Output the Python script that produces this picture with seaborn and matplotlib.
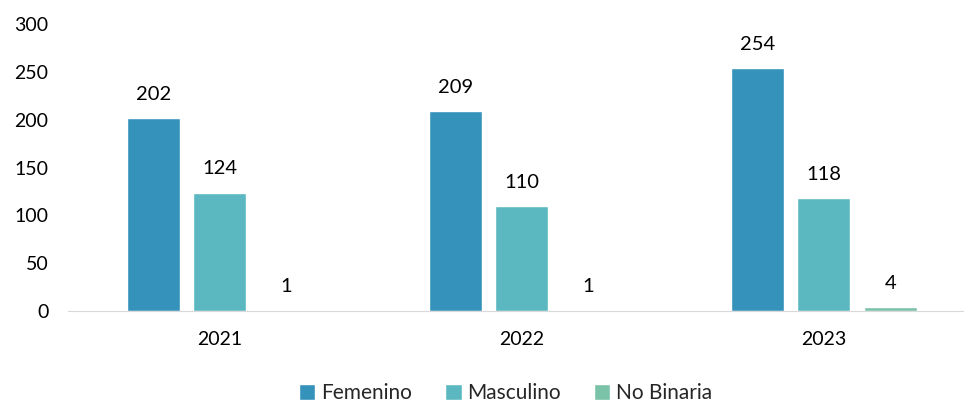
import pandas as pd
import matplotlib.pyplot as plt
import seaborn as sns

years = ['2021', '2022', '2023']
femenino = [202, 209, 254]
masculino = [124, 110, 118]
no_binaria = [1, 1, 4]
generos = ['Femenino', 'Masculino', 'No Binaria']
colores = ['#3592BA', '#5BB7C0', '#7BC3A8']

df = pd.DataFrame({
    'Año': years * 3,
    'Valor': femenino + masculino + no_binaria,
    'Género': [g for g in generos for _ in years],
})

sns.set_style('white')
plt.rcParams['font.family'] = ['Lato', 'DejaVu Sans']

fig = plt.figure(figsize=(9.64, 4.03), dpi=100)
ax = fig.add_axes([0.0705, 0.228, 0.9295, 0.712])

sns.barplot(data=df, x='Año', y='Valor', hue='Género', palette=colores,
            saturation=1, width=0.66, gap=0.2, ax=ax, legend=True)

for cont in ax.containers:
    ax.bar_label(cont, padding=11, fontsize=14.5, color='#000000')

ax.set_ylim(0, 300)
ax.set_yticks(range(0, 301, 50))
ax.set_xlim(-0.503, 2.464)
ax.set_xlabel('')
ax.set_ylabel('')
sns.despine(ax=ax, left=True, top=True, right=True)
ax.spines['bottom'].set_color('#D9D9D9')
ax.tick_params(axis='both', length=0, labelsize=14, colors='#000000')
ax.tick_params(axis='x', pad=14)
ax.tick_params(axis='y', pad=14)

handles, labels = ax.get_legend_handles_labels()
ax.legend(handles, labels, loc='center', bbox_to_anchor=(0.488, -0.286),
          ncol=3, frameon=False, fontsize=15, handlelength=0.8, handleheight=0.8,
          handletextpad=0.25, columnspacing=1.6)

fig.savefig('out.png', dpi=100)
